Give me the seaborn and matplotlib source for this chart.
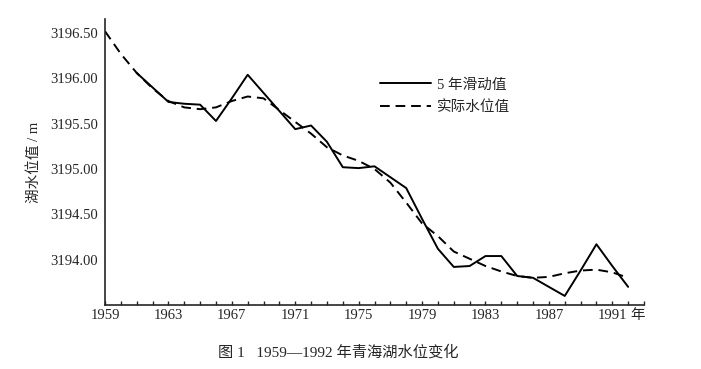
import numpy as np
import pandas as pd
import matplotlib
matplotlib.use('Agg')
import matplotlib.pyplot as plt
import seaborn as sns

# 5 年滑动值 (solid), 1961-1992
smooth_years = list(range(1961, 1993))
smooth_vals = [3196.06, 3195.90, 3195.74, 3195.72, 3195.71, 3195.53, 3195.78, 3196.04,
               3195.84, 3195.64, 3195.44, 3195.48, 3195.30, 3195.02, 3195.01, 3195.03,
               3194.91, 3194.79, 3194.45, 3194.12, 3193.92, 3193.93, 3194.04, 3194.04,
               3193.82, 3193.80, 3193.70, 3193.60, 3193.88, 3194.17, 3193.93, 3193.70]

# 实际水位值 (dashed), 1959-1992
actual_years = list(range(1959, 1993))
actual_vals = [3196.52, 3196.27, 3196.06, 3195.89, 3195.75, 3195.68, 3195.66, 3195.68,
               3195.75, 3195.80, 3195.78, 3195.65, 3195.52, 3195.39, 3195.24, 3195.15,
               3195.09, 3195.00, 3194.85, 3194.63, 3194.40, 3194.26, 3194.09, 3194.01,
               3193.93, 3193.87, 3193.82, 3193.80, 3193.81, 3193.85, 3193.88, 3193.89,
               3193.86, 3193.80]

series_labels = ['5 年滑动值', '实际水位值']
x_ticks = [1959, 1963, 1967, 1971, 1975, 1979, 1983, 1987, 1991]
y_ticks = [3194.0, 3194.5, 3195.0, 3195.5, 3196.0, 3196.5]

sns.set_style('ticks')
plt.rcParams['font.family'] = ['Liberation Serif', 'Noto Sans CJK SC', 'DejaVu Sans']

df_s = pd.DataFrame({'year': smooth_years, 'level': smooth_vals})
df_a = pd.DataFrame({'year': actual_years, 'level': actual_vals})

fig = plt.figure(figsize=(7.01, 3.69), dpi=100)
ax = fig.add_axes([105 / 701, 1 - 305 / 369, (644 - 105) / 701, (305 - 19) / 369])

sns.lineplot(data=df_s, x='year', y='level', ax=ax, color='black', lw=1.4,
             label=series_labels[0])
sns.lineplot(data=df_a, x='year', y='level', ax=ax, color='black', lw=1.4,
             linestyle=(0, (5, 3)), label=series_labels[1])

ax.set_xlim(1959, 1993)
ax.set_ylim(3193.5, 3196.655)
ax.set_xticks(x_ticks)
ax.set_xticks(range(1959, 1994), minor=True)
ax.set_yticks(y_ticks)
ax.set_yticklabels([f'{v:.2f}' for v in y_ticks])
ax.tick_params(axis='x', which='both', direction='in', length=3, width=1, labelsize=10.5, pad=3)
ax.tick_params(axis='y', which='both', direction='in', length=0, labelsize=10.5, pad=5)
ax.set_xlabel('')
ax.set_ylabel('湖水位值 / m', fontsize=10.5, labelpad=7)
for side in ['top', 'right']:
    ax.spines[side].set_visible(False)
for side in ['left', 'bottom']:
    ax.spines[side].set_linewidth(1.2)

ax.text(1992.6, -0.013, '年', transform=ax.get_xaxis_transform(), ha='center', va='top',
        fontsize=10.5)

leg = ax.legend(loc='upper left', bbox_to_anchor=(380 / 701, 1 - 78 / 369),
                bbox_transform=fig.transFigure, frameon=False, fontsize=10.5,
                handlelength=3.5, handletextpad=0.4, labelspacing=0.6,
                borderpad=0, borderaxespad=0)

fig.text(338 / 701, 1 - 352 / 369, '图 1   1959—1992 年青海湖水位变化',
         ha='center', va='center', fontsize=11)

fig.savefig('out.png', dpi=100)
